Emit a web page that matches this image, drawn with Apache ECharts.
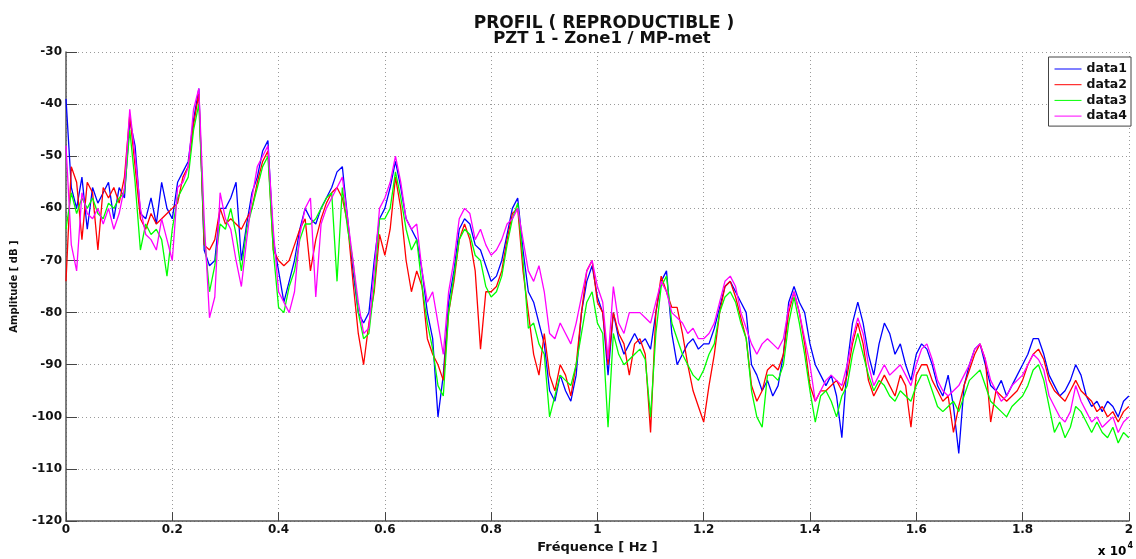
<!DOCTYPE html>
<html><head><meta charset="utf-8">
<script src="https://cdn.jsdelivr.net/npm/echarts@6/dist/echarts.min.js"></script>
<style>html,body{margin:0;padding:0;background:#fff}#c{width:1136px;height:559px}</style>
</head><body><div id="c"></div>
<script>
// frequency grid (x 10^4 Hz)
const freqStart = 0, freqStep = 0.01;
const seriesNames = ['data1', 'data2', 'data3', 'data4'];
const titleLines = ['PROFIL ( REPRODUCTIBLE )', 'PZT 1 - Zone1 / MP-met'];
const xName = 'Fréquence [ Hz ]';
const yName = 'Amplitude [ dB ]';

const data1 = [
-39,-56,-60,-54,-64,-56,-59,-57,-55,-62,
-56,-58,-43,-48,-61,-62,-58,-63,-55,-60,
-62,-55,-53,-51,-43,-37,-68,-71,-70,-60,
-60,-58,-55,-70,-63,-57,-54,-49,-47,-66,
-72,-78,-74,-70,-64,-60,-62,-63,-60,-58,
-56,-53,-52,-62,-72,-80,-82,-80,-70,-62,
-60,-56,-51,-56,-62,-64,-66,-72,-80,-85,
-100,-92,-78,-72,-64,-62,-63,-67,-68,-71,
-74,-73,-70,-65,-60,-58,-68,-76,-78,-82,
-86,-95,-97,-92,-95,-97,-92,-80,-74,-71,
-77,-80,-92,-80,-85,-88,-86,-84,-86,-85,
-87,-80,-74,-72,-84,-90,-88,-86,-85,-87,
-86,-86,-83,-79,-75,-74,-76,-78,-80,-90,
-92,-95,-93,-96,-94,-88,-78,-75,-78,-80,
-86,-90,-92,-94,-92,-96,-104,-90,-82,-78,
-82,-88,-92,-86,-82,-84,-88,-86,-90,-93,
-88,-86,-87,-90,-94,-96,-92,-98,-107,-94,
-90,-87,-86,-90,-94,-95,-93,-96,-94,-92,
-90,-88,-85,-85,-88,-92,-94,-96,-95,-93,
-90,-92,-96,-98,-97,-99,-97,-98,-100,-97,
-96];

const data2 = [
-74,-52,-55,-66,-55,-57,-68,-56,-58,-56,
-59,-54,-42,-52,-62,-64,-61,-63,-62,-61,
-60,-59,-54,-52,-44,-38,-67,-68,-66,-60,
-63,-62,-63,-64,-62,-60,-55,-51,-49,-68,
-70,-71,-70,-67,-64,-62,-72,-66,-62,-59,
-57,-56,-58,-63,-74,-84,-90,-82,-76,-65,
-69,-64,-54,-60,-70,-76,-72,-75,-85,-88,
-90,-93,-80,-74,-66,-63,-66,-72,-87,-76,
-76,-75,-72,-66,-61,-60,-72,-80,-88,-92,
-84,-92,-95,-90,-92,-96,-90,-80,-72,-70,
-78,-80,-90,-80,-84,-86,-92,-86,-85,-88,
-103,-80,-73,-76,-79,-79,-84,-90,-95,-98,
-101,-94,-88,-80,-75,-74,-77,-81,-85,-94,
-97,-95,-91,-90,-91,-88,-80,-76,-80,-86,
-94,-97,-95,-95,-94,-93,-95,-92,-86,-82,
-86,-93,-96,-94,-92,-94,-96,-92,-94,-102,
-92,-90,-90,-93,-95,-97,-96,-103,-98,-94,
-91,-88,-86,-89,-101,-95,-96,-97,-96,-95,
-93,-90,-88,-87,-89,-93,-95,-96,-97,-95,
-93,-95,-96,-97,-99,-98,-100,-99,-101,-99,
-98];

const data3 = [
-64,-57,-61,-58,-60,-58,-61,-62,-59,-60,
-58,-57,-45,-55,-68,-63,-65,-64,-66,-73,
-64,-58,-56,-54,-45,-40,-65,-76,-71,-63,
-64,-60,-65,-72,-64,-60,-56,-52,-50,-68,
-79,-80,-75,-72,-66,-63,-63,-62,-60,-58,
-57,-74,-56,-64,-70,-80,-85,-84,-75,-62,
-62,-60,-53,-58,-64,-68,-66,-75,-82,-87,
-94,-96,-80,-73,-66,-64,-65,-69,-70,-75,
-77,-76,-73,-67,-62,-59,-70,-83,-82,-86,
-88,-100,-96,-92,-93,-94,-90,-84,-78,-76,
-82,-84,-102,-84,-88,-90,-89,-88,-87,-89,
-100,-84,-75,-73,-82,-85,-88,-90,-92,-93,
-91,-88,-86,-80,-77,-76,-78,-82,-85,-95,
-100,-102,-92,-92,-93,-90,-82,-77,-82,-88,
-95,-101,-96,-95,-97,-100,-96,-94,-88,-84,
-88,-92,-95,-93,-94,-96,-97,-95,-96,-97,
-94,-92,-92,-95,-98,-99,-98,-97,-99,-96,
-93,-92,-91,-94,-97,-98,-99,-100,-98,-97,
-96,-94,-91,-90,-93,-98,-103,-101,-104,-102,
-98,-99,-101,-103,-101,-103,-104,-102,-105,-103,
-104];

const data4 = [
-48,-67,-72,-57,-61,-62,-60,-63,-60,-64,
-61,-56,-41,-50,-60,-65,-66,-68,-62,-66,
-70,-56,-55,-52,-41,-37,-62,-81,-77,-57,
-62,-64,-70,-75,-66,-58,-52,-50,-48,-64,
-76,-78,-80,-76,-65,-60,-58,-77,-63,-60,
-58,-56,-54,-62,-70,-78,-84,-83,-72,-60,
-58,-55,-50,-55,-62,-64,-63,-72,-78,-76,
-82,-88,-76,-70,-62,-60,-61,-66,-64,-67,
-69,-68,-66,-63,-62,-60,-66,-72,-74,-71,
-76,-84,-85,-82,-84,-86,-82,-77,-72,-70,
-75,-78,-89,-75,-82,-84,-80,-80,-80,-81,
-82,-78,-74,-76,-80,-81,-82,-84,-83,-85,
-85,-84,-82,-78,-74,-73,-75,-80,-83,-86,
-88,-86,-85,-86,-87,-85,-79,-76,-80,-85,
-90,-97,-95,-93,-92,-93,-94,-90,-85,-81,
-84,-90,-94,-92,-90,-92,-91,-90,-92,-94,
-90,-87,-86,-89,-93,-95,-96,-95,-94,-92,
-90,-87,-86,-89,-93,-95,-97,-96,-94,-93,
-92,-90,-88,-89,-91,-96,-98,-100,-101,-99,
-94,-97,-99,-101,-100,-102,-101,-100,-103,-101,
-100];

const allSeries = [data1, data2, data3, data4];
const colors = ['#0000ff', '#ff0000', '#00ff00', '#ff00ff'];

const chart = echarts.init(document.getElementById('c'), null, { renderer: 'canvas' });
const FONT = 'DejaVu Sans, sans-serif';
const gridLine = { show: true, lineStyle: { color: '#9a9a9a', type: [1, 3], width: 1 } };

chart.setOption({
  animation: false,
  backgroundColor: '#ffffff',
  title: [
    { text: titleLines[0], left: 599, top: 9, textAlign: 'center',
      textStyle: { fontFamily: FONT, fontWeight: 'bold', fontSize: 17, color: '#111', lineHeight: 20 } },
    { text: titleLines[1], left: 597, top: 24, textAlign: 'center',
      textStyle: { fontFamily: FONT, fontWeight: 'bold', fontSize: 16.5, color: '#111', lineHeight: 20 } }
  ],
  legend: {
    orient: 'vertical', right: 5, top: 57,
    icon: 'rect', itemWidth: 27, itemHeight: 1, itemGap: 1.7,
    padding: [5, 4, 3, 6],
    backgroundColor: '#fff', borderColor: '#444', borderWidth: 1,
    textStyle: { fontFamily: FONT, fontSize: 12.5, fontWeight: 'bold', color: '#111', lineHeight: 14 },
    data: seriesNames
  },
  grid: { left: 66, right: 3, top: 52, bottom: 33, containLabel: false },
  xAxis: {
    type: 'value', min: 0, max: 2, interval: 0.2,
    name: xName, nameLocation: 'middle', nameGap: 15,
    nameTextStyle: { fontFamily: FONT, fontWeight: 'bold', fontSize: 13, color: '#111', verticalAlign: 'top' },
    axisLine: { show: true, onZero: false, lineStyle: { color: '#555', width: 1.5 } },
    axisTick: { show: true, inside: true, length: 9, lineStyle: { color: '#444' } },
    axisLabel: { margin: 3, fontFamily: FONT, fontWeight: 'bold', fontSize: 12, color: '#111',
      formatter: v => String(Math.round(v * 10) / 10) },
    splitLine: gridLine
  },
  yAxis: {
    type: 'value', min: -120, max: -30, interval: 10,
    name: yName, nameLocation: 'middle', nameGap: 47, nameRotate: 90,
    nameTextStyle: { fontFamily: FONT, fontWeight: 'bold', fontSize: 10, color: '#111' },
    axisLine: { show: true, onZero: false, lineStyle: { color: '#555', width: 1.5 } },
    axisTick: { show: true, inside: true, length: 11, lineStyle: { color: '#444' } },
    axisLabel: { margin: 4, fontFamily: FONT, fontWeight: 'bold', fontSize: 12, color: '#111' },
    splitLine: gridLine
  },
  graphic: [{
    type: 'text', right: 3, bottom: 1,
    style: {
      text: '{a|x 10}{b|4}',
      rich: {
        a: { fontFamily: FONT, fontWeight: 'bold', fontSize: 12, color: '#111', verticalAlign: 'bottom' },
        b: { fontFamily: FONT, fontWeight: 'bold', fontSize: 8, color: '#111', verticalAlign: 'top', padding: [0, 0, 8, 1] }
      }
    }
  }],
  series: allSeries.map((vals, k) => ({
    name: seriesNames[k], type: 'line', symbol: 'none', showSymbol: false,
    color: colors[k],
    lineStyle: { color: colors[k], width: 1.3 },
    z: 2 + k,
    data: vals.map((v, i) => [+(freqStart + i * freqStep).toFixed(2), v])
  }))
});
</script>
</body></html>
